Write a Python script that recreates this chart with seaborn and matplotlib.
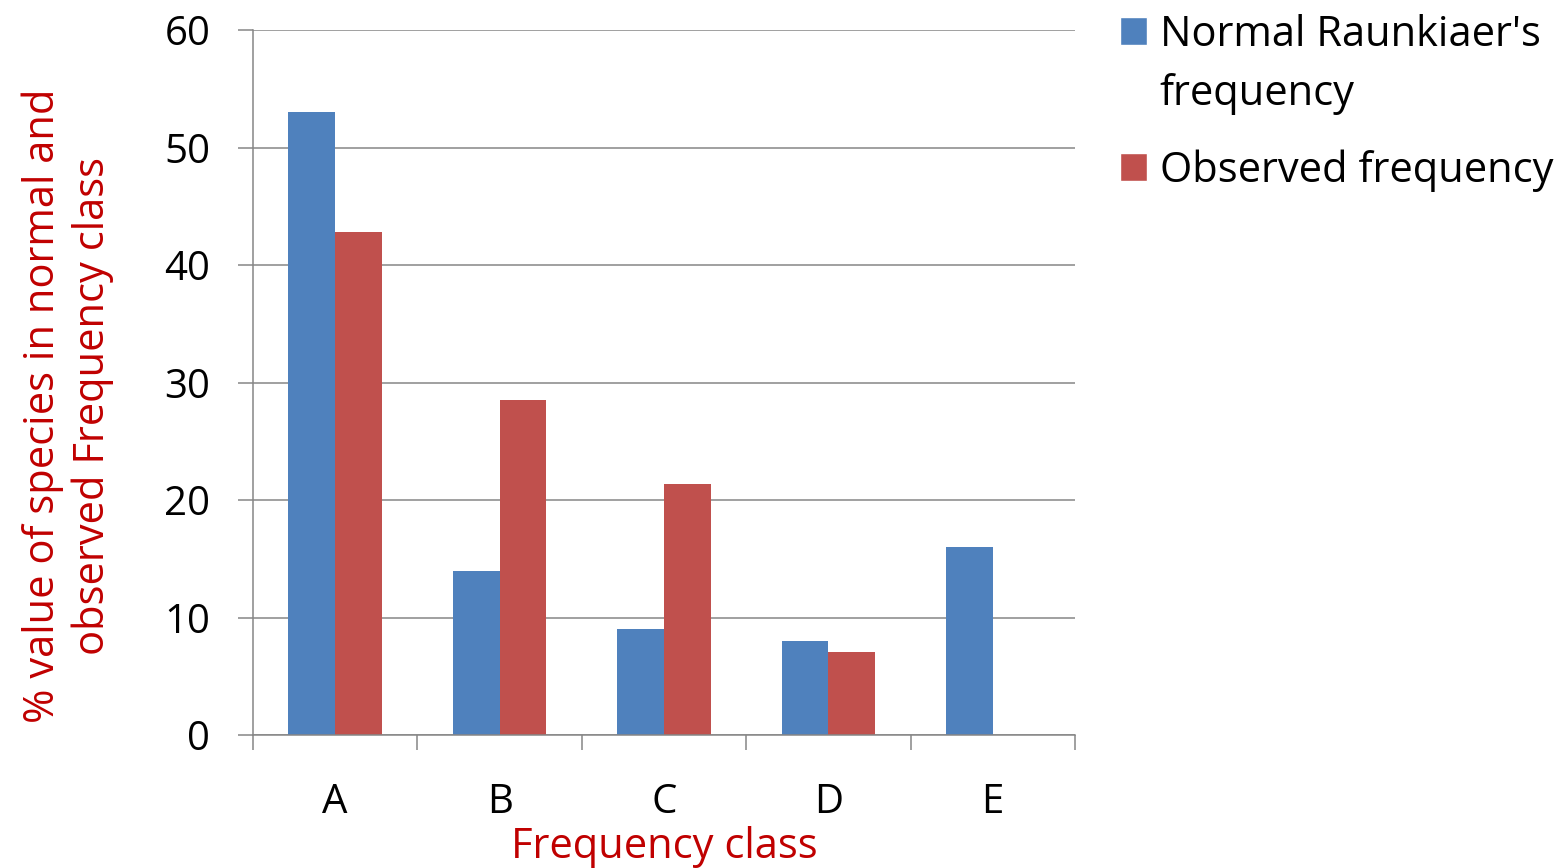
import matplotlib
matplotlib.use("Agg")
import matplotlib.pyplot as plt
from matplotlib.patches import Patch
import seaborn as sns
import pandas as pd
import numpy as np

categories = ["A", "B", "C", "D", "E"]
normal = [53, 14, 9, 8, 16]
observed = [42.8, 28.5, 21.4, 7.1, 0]
series_names = ["Normal Raunkiaer's frequency", "Observed frequency"]
yticks = [0, 10, 20, 30, 40, 50, 60]
colors = ["#4F81BD", "#C0504D"]

df = pd.DataFrame({
    "cls": categories * 2,
    "val": normal + observed,
    "series": [series_names[0]] * 5 + [series_names[1]] * 5,
})

sns.set_style("white")
plt.rcParams['font.family'] = ['Open Sans', 'DejaVu Sans']
plt.rcParams['text.color'] = 'black'
plt.rcParams['xtick.color'] = 'black'
plt.rcParams['ytick.color'] = 'black'

fig = plt.figure(figsize=(15.59, 8.68), dpi=100)
ax = fig.add_axes([253/1559, 133/868, (1075-253)/1559, (735-30)/868])

sns.barplot(data=df, x="cls", y="val", hue="series", order=categories,
            hue_order=series_names, palette=colors,
            width=0.57, saturation=1, ax=ax, legend=False, linewidth=0)

ax.set_xlim(-0.5, 4.5)
ax.set_ylim(0, 60)
ax.set_yticks(yticks)
ax.set_yticklabels([str(t) for t in yticks], fontsize=29)
ax.yaxis.grid(True, color="#868686", linewidth=1.1)
ax.set_axisbelow(True)
for s in ["top", "right"]:
    ax.spines[s].set_visible(False)
for s in ["left", "bottom"]:
    ax.spines[s].set_color("#868686")
    ax.spines[s].set_linewidth(1.1)
ax.tick_params(axis="y", which="major", left=True, length=10.8, width=1.1,
               color="#868686", labelcolor="black", pad=20)
ax.tick_params(axis="x", which="major", bottom=True, length=0, pad=34, labelsize=29,
               labelcolor="black")
ax.set_xticks(np.arange(-0.5, 5, 1), minor=True)
ax.tick_params(axis="x", which="minor", bottom=True, length=10.8, width=1.1, color="#868686")

ax.set_xlabel("Frequency class", fontsize=30, color="#C00000", labelpad=2)
ax.set_ylabel("% value of species in normal and\nobserved Frequency class", fontsize=30,
              color="#C00000", linespacing=1.22)
ax.yaxis.set_label_coords((114 - 253) / 822, (735 - 406) / 705)

legkw = dict(loc="upper left", bbox_transform=fig.transFigure, frameon=False,
             fontsize=30, handlelength=0.65, handleheight=0.65, handletextpad=0.3,
             borderaxespad=0, borderpad=0)
leg1 = ax.legend([Patch(facecolor=colors[0]), Patch(facecolor="none", edgecolor="none")],
                 ["Normal Raunkiaer's", "frequency"],
                 bbox_to_anchor=(1120/1559, 1 - 14/868), labelspacing=0.4, **legkw)
ax.add_artist(leg1)
ax.legend([Patch(facecolor=colors[1])], ["Observed frequency"],
          bbox_to_anchor=(1120/1559, 1 - 149/868), **legkw)

fig.savefig("out.png", dpi=100)
